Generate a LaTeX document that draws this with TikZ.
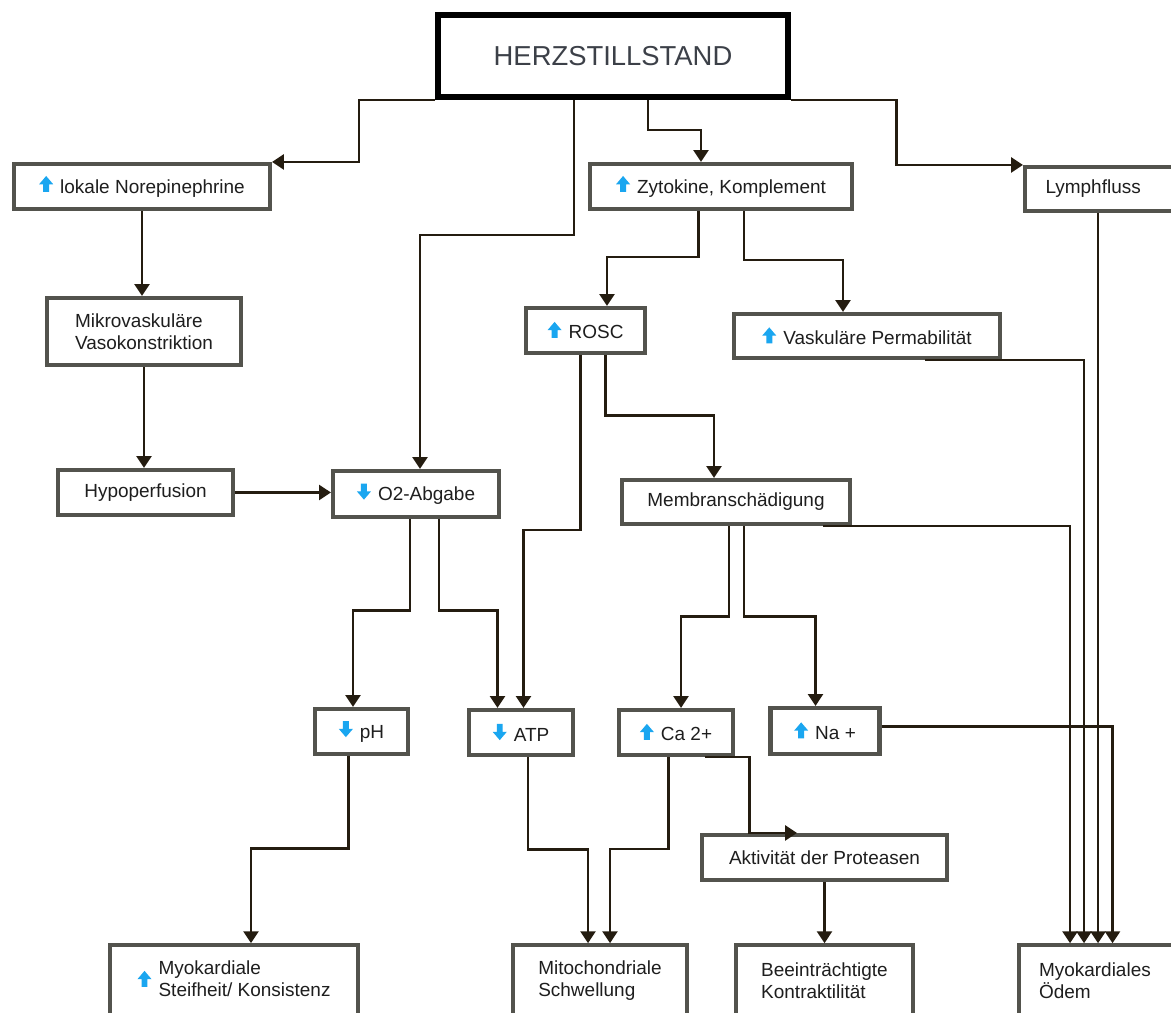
\documentclass[tikz,border=0pt]{standalone}
\usepackage{fontspec}
\setmainfont{Liberation Sans}
\usepackage{xcolor}
\usepackage{tikz}
\usetikzlibrary{arrows.meta}
\definecolor{boxgray}{HTML}{53534D}
\definecolor{linedark}{HTML}{241C10}
\definecolor{iconblue}{HTML}{1AA6F0}
\definecolor{titlegray}{HTML}{3C4048}
\definecolor{textdark}{HTML}{1E1E1E}

\newcommand{\hoch}{\tikz[baseline=0pt]\fill[iconblue] (-1.7pt,0.6pt) -- (-1.7pt,5pt) -- (-4pt,5pt) -- (0,9.7pt) -- (4pt,5pt) -- (1.7pt,5pt) -- (1.7pt,0.6pt) -- cycle;}
\newcommand{\runter}{\tikz[baseline=0pt]\fill[iconblue] (-1.7pt,9.7pt) -- (-1.7pt,5.2pt) -- (-4pt,5.2pt) -- (0,0.5pt) -- (4pt,5.2pt) -- (1.7pt,5.2pt) -- (1.7pt,9.7pt) -- cycle;}

\begin{document}
\begin{tikzpicture}[
    bnode/.style={draw=boxgray, line width=2.3pt, fill=white, rectangle, minimum height=0.9cm, inner sep=2pt, text=textdark, font=\fontsize{10.8}{12.6}\selectfont},
    hnode/.style={draw=black, line width=3.4pt, fill=white, rectangle, text=titlegray, font=\fontsize{15.6}{18}\selectfont},
    conn/.style={draw=linedark, line width=1.6pt, -{Triangle[length=6.8pt, width=8.5pt]}}]

  \useasboundingbox (0,0) rectangle (23.42,20.24);
  \clip (0,0) rectangle (23.42,20.24);

  \node[hnode, minimum width=7.0cm, minimum height=1.64cm] (herz) at (12.26, 19.12) {HERZSTILLSTAND};

  \node[bnode, minimum width=5.12cm] (norep) at (2.84, 16.51) {\hoch\hspace{4pt}lokale Norepinephrine};
  \node[bnode, minimum width=5.24cm] (zyto) at (14.42, 16.51) {\hoch\hspace{4pt}Zytokine, Komplement};
  \node[bnode, minimum width=3.5cm, minimum height=0.88cm, text width=2.68cm, align=left] (lymph) at (22.25, 16.46) {Lymphfluss};

  \node[bnode, minimum width=3.88cm, minimum height=1.34cm, align=left] (mikro) at (2.88, 13.61) {Mikrovaskuläre\\Vasokonstriktion};
  \node[bnode, minimum width=2.38cm] (rosc) at (11.71, 13.63) {\hoch\hspace{4pt}ROSC};
  \node[bnode, minimum width=5.32cm, minimum height=0.88cm] (vask) at (17.34, 13.52) {\hoch\hspace{4pt}Vaskuläre Permabilität};

  \node[bnode, minimum width=3.49cm] (hypo) at (2.91, 10.39) {Hypoperfusion};
  \node[bnode, minimum width=3.32cm, minimum height=0.92cm] (otwo) at (8.32, 10.36) {\runter\hspace{4pt}O2-Abgabe};
  \node[bnode, minimum width=4.56cm, minimum height=0.88cm] (membran) at (14.72, 10.2) {Membranschädigung};

  \node[bnode, minimum width=1.86cm] (ph) at (7.23, 5.61) {\runter\hspace{4pt}pH};
  \node[bnode, minimum width=2.08cm] (atp) at (10.42, 5.59) {\runter\hspace{4pt}ATP};
  \node[bnode, minimum width=2.28cm] (ca) at (13.52, 5.59) {\hoch\hspace{4pt}Ca 2+};
  \node[bnode, minimum width=2.18cm, minimum height=0.92cm] (na) at (16.5, 5.62) {\hoch\hspace{4pt}Na +};
  \node[bnode, minimum width=4.89cm] (prot) at (16.49, 3.09) {Aktivität der Proteasen};

  % bottom row, cut by the page edge
  \node[bnode, minimum width=4.95cm, minimum height=1.43cm] (steif) at (4.68, 0.62) {\raisebox{-1.2pt}{\hoch}\hspace{4pt}\begin{tabular}[c]{@{}l@{}}Myokardiale\\Steifheit/ Konsistenz\end{tabular}};
  \node[bnode, minimum width=3.48cm, minimum height=1.43cm, align=left] (mito) at (12.0, 0.62) {Mitochondriale\\Schwellung};
  \node[bnode, minimum width=3.55cm, minimum height=1.43cm, align=left] (beein) at (16.49, 0.62) {Beeinträchtigte\\Kontraktilität};
  \node[bnode, minimum width=3.63cm, minimum height=1.43cm, text width=2.82cm, align=left] (oedem) at (22.19, 0.62) {Myokardiales\\Ödem};

  % from the top box
  \draw[conn] (herz.south west) -- ++(-1.52,0) |- (norep.north east);
  \draw[conn] ([xshift=-0.78cm]herz.south) -- ++(0,-2.7) -| ([xshift=0.08cm]otwo.north);
  \draw[conn] ([xshift=0.7cm]herz.south) -- ++(0,-0.6) -| ([xshift=-0.4cm]zyto.north);
  \draw[conn] (herz.south east) -- ++(2.11,0) |- (lymph.north west);

  % left column
  \draw[conn] (norep.south) -- (norep.south |- mikro.north);
  \draw[conn] (mikro.south) -- (mikro.south |- hypo.north);
  \draw[conn] (hypo.east) -- (hypo.east -| otwo.west);

  \draw[conn] ([xshift=-0.45cm]zyto.south) -- ++(0,-0.92) -| ([xshift=0.43cm]rosc.north);
  \draw[conn] ([xshift=0.46cm]zyto.south) -- ++(0,-0.98) -| ([xshift=-0.48cm]vask.north);
  \draw[conn] ([xshift=-0.1cm]rosc.south) -- ++(0,-3.5) -| ([xshift=0.05cm]atp.north);
  \draw[conn] ([xshift=0.4cm]rosc.south) -- ++(0,-1.21) -| ([xshift=-0.44cm]membran.north);

  % into the oedema box
  \draw[conn] ([xshift=1.16cm]vask.south) -| ([xshift=-0.51cm]oedem.north);
  \draw[conn] ([xshift=-0.29cm]lymph.south) -- ([xshift=-0.29cm]lymph.south |- oedem.north);
  \draw[conn] ([xshift=1.74cm]membran.south) -| ([xshift=-0.79cm]oedem.north);
  \draw[conn] ([yshift=0.09cm]na.east) -| ([xshift=0.06cm]oedem.north);

  \draw[conn] ([xshift=-0.14cm]membran.south) -- ++(0,-1.81) -| ([xshift=0.1cm]ca.north);
  \draw[conn] ([xshift=0.16cm]membran.south) -- ++(0,-1.81) -| ([xshift=-0.19cm]na.north);
  \draw[conn] ([xshift=-0.12cm]otwo.south) -- ++(0,-1.83) -| ([xshift=-0.17cm]ph.north);
  \draw[conn] ([xshift=0.46cm]otwo.south) -- ++(0,-1.83) -| ([xshift=-0.47cm]atp.north);

  \draw[conn] ([xshift=-0.26cm]ph.south) -- ++(0,-1.85) -| ([xshift=0.34cm]steif.north);
  \draw[conn] ([xshift=0.14cm]atp.south) -- ++(0,-1.85) -| ([xshift=-0.24cm]mito.north);
  \draw[conn] ([xshift=-0.15cm]ca.south) -- ++(0,-1.84) -| ([xshift=0.2cm]mito.north);
  \draw[conn] ([xshift=0.57cm]ca.south) -- ++(0.9,0) |- ([xshift=-0.55cm]prot.north);
  \draw[conn] (prot.south) -- (prot.south |- beein.north);
\end{tikzpicture}
\end{document}
